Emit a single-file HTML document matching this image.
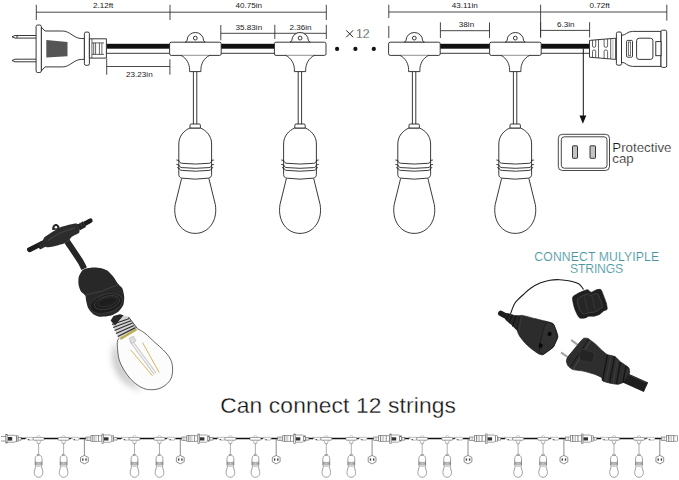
<!DOCTYPE html>
<html><head><meta charset="utf-8">
<style>
html,body{margin:0;padding:0;background:#fff;width:679px;height:480px;overflow:hidden}
svg{display:block}
text{font-family:"Liberation Sans",sans-serif}
</style></head>
<body>
<svg width="679" height="480" viewBox="0 0 679 480">
<defs>
 <!-- big fixture, drawn at fixture-1 position (center x=195.3) -->
 <g id="fx" fill="#fff" stroke="#222">
  <path d="M185,42.3 Q186.6,41.8 187.1,40.2 A8.2,7.7 0 0 1 203.5,40.2 Q204,41.8 205.6,42.3 Z"/>
  <circle cx="195.3" cy="38.1" r="1.9"/>
  <rect x="169.6" y="42.2" width="51.6" height="13.2" rx="1.6"/>
  <path d="M181,55.4 C186.5,58 189.6,64 189.6,69.6 L189.6,71.6 L200.9,71.6 L200.9,69.6 C200.9,64 204,58 209.6,55.4"/>
  <path d="M193.4,71.6 V124.4 M196.8,71.6 V124.4" fill="none"/>
  <path d="M181.6,178.5 L175.2,204.5 C172.5,221 182,233.4 195.2,233.4 C208.4,233.4 218,221 215.3,204.5 L208.9,178.5"/>
  <path d="M190,128 C184,130.5 178.8,136 178.8,144 V174.4 C178.8,176.4 179.8,177.6 181.5,178.1 Q195.2,180.2 208.9,178.1 C210.6,177.6 211.6,176.4 211.6,174.4 V144 C211.6,136 206.4,130.5 200.4,128 Z"/>
  <path d="M190,128 L190,125.2 Q190,124 191.2,124 L199.2,124 Q200.4,124 200.4,125.2 L200.4,128 Z"/>
  <path d="M176.4,160 L178.8,160.4 C179.5,162.6 180.5,163.2 182.2,163.3 Q195.2,164.8 208.9,163.3 C210.5,163.2 211.3,162.6 211.6,160.4 L213.9,160 M176.4,164.4 L178.8,164.9 C179.5,166.9 180.5,167.5 182.2,167.6 Q195.2,169 208.9,167.6 C210.5,167.5 211.3,166.9 211.6,164.9 L213.9,164.4 M177.2,167.6 L178.8,168 C179.5,169.8 180.5,170.3 182.2,170.4 Q195.2,172 208.9,170.4 C210.5,170.3 211.3,169.8 211.6,168 L213.2,167.6" fill="none"/>
 </g>
</defs>

<!-- ===== dimension lines ===== -->
<g stroke="#333" stroke-width="0.9" fill="none">
 <path d="M36.3,4.8 V20 M170,4.8 V20 M326.3,4.8 V20 M326.3,24.8 V39 M36.3,12.2 H326.3"/>
 <path d="M220.8,25 V40.3 M274.8,24.8 V39 M220.8,33.3 H326.3"/>
 <path d="M388.8,4.7 V18 M388.8,26 V38 M540.6,4.7 V37.5 M666.8,4.7 V20.6 M388.8,12 H666.8"/>
 <path d="M440.4,22.3 V38 M489.5,22.3 V38 M440.4,30.7 H489.5"/>
 <path d="M540.6,22.2 V37.5 M589.6,22.2 V37.5 M540.6,30.4 H589.6"/>
 <path d="M106.7,58.6 V74.7 M169.9,59.2 V74.7 M106.7,66.5 H169.9"/>
</g>
<g fill="#1a1a1a" font-size="8.1" text-anchor="middle">
 <text x="103.2" y="7.9">2.12ft</text>
 <text x="248.8" y="7.9">40.75in</text>
 <text x="464.8" y="7.9">43.11in</text>
 <text x="599.6" y="7.9">0.72ft</text>
 <text x="248.9" y="30.2">35.83in</text>
 <text x="300.5" y="30.2">2.36in</text>
 <text x="466.5" y="27.4">38in</text>
 <text x="565.7" y="27.4">6.3in</text>
 <text x="139.4" y="76.9">23.23in</text>
</g>

<!-- ===== main cable ===== -->
<g>
 <rect x="106.5" y="43.8" width="63.5" height="4.9" fill="#111"/>
 <rect x="221" y="43.8" width="54" height="4.9" fill="#111"/>
 <rect x="440" y="43.8" width="50" height="4.9" fill="#111"/>
 <rect x="541" y="43.8" width="49" height="4.9" fill="#111"/>
 <path d="M106.5,53.3 H170 M221,53.3 H275 M440,53.3 H490 M541,53.3 H590" stroke="#222" stroke-width="0.9"/>
 <path d="M106.5,48.7 V53.3 M589.6,48.7 V53.3" stroke="#222" stroke-width="0.6"/>
</g>

<!-- fixtures -->
<use href="#fx" stroke-width="0.9"/>
<use href="#fx" stroke-width="0.9" transform="translate(104.8,0)"/>
<use href="#fx" stroke-width="0.9" transform="translate(219,0)"/>
<use href="#fx" stroke-width="0.9" transform="translate(320,0)"/>

<!-- ×12 and dots -->
<path d="M346.2,30.3 L353.2,37.3 M353.2,30.3 L346.2,37.3" stroke="#222" stroke-width="1"/>
<text x="356" y="37.9" font-size="12.3" fill="#111" stroke="#fff" stroke-width="0.3">12</text>
<g fill="#111"><circle cx="337.1" cy="48.9" r="2.1"/><circle cx="355.4" cy="48.9" r="2.1"/><circle cx="373.8" cy="48.9" r="2.1"/></g>

<!-- ===== male plug (left) ===== -->
<g fill="#fff" stroke="#222" stroke-width="0.9">
 <path d="M36.3,35.5 H15 L12,36.8 L15,38.1 H36.3"/>
 <path d="M16.6,35.7 V37.9 M17.6,35.7 V37.9 M16.6,59.4 V61.6 M17.6,59.4 V61.6" stroke-width="0.5"/>
 <path d="M36.3,59.2 H15 L12,60.5 L15,61.8 H36.3"/>
 <path d="M41.2,27 L45,31 H62.5 C70,31 74,38.5 81.3,38.5 L84.4,38.5 L84.4,59.4 L81.3,59.4 C74,59.4 70,66.9 62.5,66.9 H45 L41.2,71 Z"/>
 <rect x="36.1" y="25" width="5.2" height="47.5" rx="1.5"/>
 <rect x="84.4" y="32.1" width="5" height="33.2" rx="1.5"/>
 <path d="M89.4,38.8 H106.4 V58.1 H89.4 Z"/>
 <path d="M91.9,38.8 V58.1 M93.7,42.9 V54.4 M95.6,42.9 V54.4 M99.4,42.9 V54.4 M101.9,42.9 V54.4 M92,42.9 H104 M92,54.4 H104" fill="none" stroke-width="0.7"/>
</g>
<path d="M46.3,40 L67.5,41.9 L67.5,56.3 L46.3,57.5 Z" fill="#555"/>

<!-- ===== female connector (right) ===== -->
<g fill="#fff" stroke="#222" stroke-width="0.9">
 <path d="M589.5,40.4 L615.7,38.2 L615.7,59.4 L589.5,57.2 Z"/>
 <path d="M592.5,40.1 V46 Q592.5,47.3 594.1,47.3 Q595.7,47.3 595.7,46 V39.8 M592.5,57.1 V51.3 Q592.5,50 594.1,50 Q595.7,50 595.7,51.3 V57.4 M604.1,39.3 V46 Q604.1,47.3 605.85,47.3 Q607.6,47.3 607.6,46 V39 M604.1,58.1 V51.3 Q604.1,50 605.85,50 Q607.6,50 607.6,51.3 V58.4 M598.5,39.6 V57.9 M610.7,38.8 V58.7" fill="none" stroke-width="0.7"/>
 <path d="M612.9,38.8 V58.8" stroke="#bbb" stroke-width="1" fill="none"/>
 <path d="M621.5,35.3 C626,35.3 627,31.4 632.5,31.4 H661 V66.4 H632.5 C627,66.4 626,62.3 621.5,62.3 Z"/>
 <rect x="616.4" y="32" width="5.1" height="33.2" rx="1.5"/>
 <rect x="661" y="30.2" width="5.7" height="37.2" rx="1.5"/>
 <rect x="626.6" y="40.4" width="5.9" height="16.8" rx="1"/>
 <rect x="628.4" y="42" width="2.3" height="13.6" fill="none" stroke-width="0.6"/>
 <rect x="636.6" y="38.2" width="16.3" height="21.2" rx="2.5"/>
 <rect x="655.8" y="41.6" width="5.2" height="14.1"/>
</g>

<!-- arrow to protective cap -->
<path d="M583.3,48.5 V116" stroke="#111" stroke-width="1"/>
<path d="M579.5,115.5 L586.3,115.5 L582.9,123.8 Z" fill="#111"/>

<!-- protective cap -->
<g fill="none" stroke="#333" stroke-width="0.9">
 <rect x="558.3" y="134.3" width="51.2" height="36.2" rx="4"/>
 <rect x="561.3" y="136.8" width="45.7" height="31.4" rx="3"/>
 <rect x="572.5" y="145.8" width="5" height="12.5" rx="0.6" fill="#c4c4c4" stroke="#222"/>
 <rect x="590" y="145.8" width="5.5" height="12.5" rx="0.6" fill="#c4c4c4" stroke="#222"/>
</g>
<g fill="#1a1a1a" font-size="13.3" stroke="#fff" stroke-width="0.2">
 <text x="612.3" y="151.8">Protective</text>
 <text x="612.3" y="162.5">cap</text>
</g>


<!-- ===== photo: black socket + T ===== -->
<g>
 <path d="M29.5,249.7 L44.5,242.3" stroke="#1c1c1c" stroke-width="4.9" stroke-linecap="round"/>
 <path d="M78,227.4 L90.3,220.7" stroke="#1c1c1c" stroke-width="4.7" stroke-linecap="round"/>
 <path d="M38.5,246.6 L45,243.4 M78.5,227.4 L84.5,224.2" stroke="#222" stroke-width="6.2" stroke-linecap="butt"/>
 <path d="M39.8,243.5 L41.9,248.3 M42.2,242.4 L44.3,247.1 M80.2,222.8 L82.4,227.4 M82.6,221.6 L84.8,226.2" stroke="#3f3f3f" stroke-width="0.9"/>
 <path d="M67.2,241.5 C71.5,248 77,256 80.5,261.5 C82,264 83,266.2 84.2,268.6" stroke="#262626" stroke-width="6.2" fill="none"/>
 <path d="M52.2,230 C51.9,226.2 53.7,224 55.9,224 C58.1,224 59.9,226.2 59.7,229.6 Z" fill="#262626"/>
 <circle cx="55.9" cy="227.3" r="1.3" fill="#fff"/>
 <path d="M43.2,241.8 C43,240.7 43.2,238.7 44.2,237.6 C45.2,236.5 50,233.4 51.8,232.2 C53.6,231 58.2,228.2 60,227.4 C61.8,226.6 65.3,225.6 67.1,225.2 C68.9,224.8 74.1,223.7 75.4,223.6 C76.7,223.5 77.4,223.9 77.9,224.2 C78.4,224.5 79.1,225.2 79.3,226.2 C79.5,227.2 79.8,231.4 79.3,232.4 C78.8,233.4 76.4,234.2 75.4,234.8 C74.4,235.4 71.7,236.7 71,237.4 C70.3,238.1 69.8,239.9 69,240.6 C68.2,241.3 65.7,242.8 64.5,243.3 C63.3,243.8 60.4,244.6 58.9,245 C57.4,245.4 53.3,246.6 51.8,246.8 C50.3,247 47,247.6 46,247 C45,246.4 43.4,242.9 43.2,241.8Z" fill="#2c2c2c"/>
 <path d="M48,240.5 C55,235 65,230.5 75,228" stroke="#444" stroke-width="1.2" fill="none"/>
 <path d="M85.5,268.6 C87,268.1 92.1,267.4 94,267.4 C95.9,267.4 99.9,267.8 101.5,268.2 C103.1,268.6 105.9,269.6 107.3,270.6 C108.7,271.6 112.2,275.4 113.5,277 C114.8,278.6 117.3,282.9 118.3,284.2 C119.3,285.5 121.6,286.8 122.3,288.3 C123,289.8 124.1,294.8 124.2,296.7 C124.3,298.6 124,303.2 123.3,305 C122.6,306.8 119.9,310.4 118.3,311.7 C116.7,313 112.1,315.2 110,315.8 C107.9,316.4 101.9,316.9 100,316.7 C98.1,316.5 94.7,315.2 93.3,314.2 C91.9,313.2 89.2,310 88.3,308.3 C87.4,306.6 86.3,301.5 86,300 C85.7,298.5 85.9,296.6 85.3,295.6 C84.7,294.6 81.8,292.7 81,291.5 C80.2,290.3 78.9,286.6 78.6,285 C78.3,283.4 78.3,279.1 78.6,277.5 C78.9,275.9 80.7,272.5 81.5,271.5 C82.3,270.5 84,269.1 85.5,268.6Z" fill="#282828"/>
 <path d="M85,295.2 Q101.7,292.5 118.6,284.4" stroke="#404040" stroke-width="1" fill="none"/>
 <ellipse cx="106.2" cy="303.6" rx="16.6" ry="9.3" transform="rotate(-16 106.2 303.6)" fill="#1d1d1d" stroke="#383838" stroke-width="1"/>
 <ellipse cx="107" cy="302.6" rx="13" ry="6.4" transform="rotate(-16 107 302.6)" fill="none" stroke="#3a3a3a" stroke-width="0.9"/>
 <ellipse cx="107.6" cy="301.8" rx="10" ry="4.3" transform="rotate(-16 107.6 301.8)" fill="none" stroke="#363636" stroke-width="0.8"/>
</g>
<!-- ===== photo: LED bulb ===== -->
<g>
 <defs><filter id="blr" x="-50%" y="-50%" width="200%" height="200%"><feGaussianBlur stdDeviation="3"/></filter></defs>
 <path d="M116,342 C110,352 111,368 122,380 C128,386 136,390 142,390 L135,383 C127,375 120,362 118.5,350 Z" fill="#c8c8c8" filter="url(#blr)"/>
 <path d="M120,336.7 C119.6,337.4 117.9,339.1 117.5,341 C117.1,342.9 117.2,345.1 117.5,348.3 C117.8,351.5 118,356.1 119.2,360 C120.5,363.9 122.7,368.1 125,371.7 C127.3,375.3 130.2,378.9 133.3,381.7 C136.4,384.5 140.2,387 143.3,388.3 C146.4,389.6 148.9,389.7 151.7,389.7 C154.5,389.7 157.4,389.4 160,388.3 C162.6,387.2 165.6,385.2 167.5,383.3 C169.4,381.4 170.9,379.5 171.7,376.7 C172.5,373.9 172.8,369.8 172.5,366.7 C172.2,363.6 171.5,361.1 170,358.3 C168.5,355.5 165.8,352.6 163.3,350 C160.8,347.4 158.1,345.3 155,342.5 C151.9,339.7 148.1,335.7 145,333.3 C141.9,330.9 138.1,329.1 136.7,328.3" fill="#fcfcfc" stroke="#555" stroke-width="0.9"/>
 <path d="M110.7,320.5 L113.5,316 L120,314.2 L128.4,316.8 L137,328 L120,338.8 L117.5,336.5 Z" fill="#d4d4d4"/>
 <path d="M110.7,320.5 L113.5,316 L120,314.2 L123.5,315.2 L115,325.5 Z" fill="#262626"/>
 <path d="M112,324.5 L129.5,318.5 M113.2,327.5 L131,320.8 M114.5,330.5 L132.5,323 M116,333.5 L134,325.5 M117.8,336.5 L135.5,327.6" stroke="#2e2e2e" stroke-width="1.2"/>
 <path d="M128.4,316.8 L137,328" stroke="#333" stroke-width="0.9"/>
 <path d="M120.3,339 L136.5,329.3" stroke="#bcab50" stroke-width="2.3"/>
 <path d="M131,341 L155,373.5" stroke="#c4c4c4" stroke-width="3.4"/>
 <path d="M131,341 L155,373.5" stroke="#f2f2f2" stroke-width="1.6"/>
 <path d="M129,338.5 L133.5,336 L136,341 L131.5,343.5 Z" fill="#ddd" stroke="#aaa" stroke-width="0.5"/>
 <path d="M130.8,350 L152.5,375.8 M142.5,342.5 L159.2,372.5" stroke="#d7b65a" stroke-width="1"/>
</g>
<!-- ===== photo: plugs ===== -->
<g>
 <path d="M510.5,314 C511.2,312.2 512.9,306.2 515,303 C517.1,299.8 520.7,297 523.4,294.5 C526.1,292 528.2,289.9 531,288 C533.8,286.1 536.8,284.3 540,283 C543.2,281.7 546.7,280.8 550,280.2 C553.3,279.6 556.3,279.6 559.6,279.7 C562.9,279.8 566.8,280.3 570,281 C573.2,281.7 576.8,282.6 579,284 C581.2,285.4 582.8,288.6 583.5,289.5" stroke="#1a1a1a" stroke-width="1.1" fill="none"/>
 <path d="M500.8,313.4 L511,319" stroke="#1e1e1e" stroke-width="5.4" stroke-linecap="round"/>
 <path d="M506.5,313 C507.1,312.7 514,315 515,315.2 C516,315.4 521.8,314.7 522,315.8 C522.2,316.9 519.2,330.9 518.5,331.5 C517.8,332.1 511.9,325.3 511,324.5 C510.1,323.7 505.8,320.6 505.5,319.8 C505.2,319 505.9,313.3 506.5,313Z" fill="#262626"/>
 <path d="M509,313.8 L506,320 M512.5,314.8 L509,322.5 M516,315.5 L512.5,326.5" stroke="#111" stroke-width="1"/>
 <path d="M521.5,315.4 C523.1,315.1 532.4,318 535,318.6 C537.6,319.2 546.2,321.3 548,321.8 C549.8,322.3 552.5,323 553.3,323.8 C554.1,324.6 555.5,328.7 556,330 C556.5,331.3 557.9,335.4 557.9,336.6 C557.9,337.8 556.3,340.9 555.8,342 C555.3,343.1 554.1,346.3 553.3,347.2 C552.5,348.1 549.1,350.4 548,351.2 C546.9,352 543.7,354.5 542.7,354.8 C541.8,355.1 539.7,354.4 538.5,353.8 C537.3,353.2 532.4,349.6 531,348.5 C529.6,347.4 525.6,343.8 524.5,342.5 C523.4,341.2 520.2,337.1 519.5,336 C518.8,334.9 517.6,332.4 517.5,331 C517.4,329.6 518.1,323.6 518.5,322 C518.9,320.4 519.9,315.7 521.5,315.4Z" fill="#2c2c2c" stroke="#1a1a1a" stroke-width="0.6"/>
 <path d="M547,322.2 C547.9,322 552.2,323.3 553.1,324.1 C554,324.9 555.3,328.8 555.8,330 C556.2,331.2 557.6,335.4 557.6,336.6 C557.6,337.8 556.1,341 555.6,342 C555.1,343 553.9,346.1 553.1,347 C552.3,347.9 549,350.3 548,351 C547,351.7 543.6,354.4 542.8,354.4 C541.9,354.4 539.7,352.2 539.5,351 C539.3,349.8 540.2,343.8 540.5,342 C540.8,340.2 542.1,334.6 542.5,333 C542.9,331.4 544,327.1 544.5,326 C545,324.9 546.1,322.4 547,322.2Z" fill="#313131" stroke="#1c1c1c" stroke-width="0.9"/>
 <path d="M521.5,316 L519,331" stroke="#3d3d3d" stroke-width="0.8"/>
 <path d="M548.4,331.4 L551.8,332.8 L550.8,336.6 L547.4,335.2 Z M539.4,343 L542.8,344.4 L541.8,348.2 L538.4,346.8 Z" fill="#080808"/>
 <path d="M572.8,296.8 C573.3,296 577,293.9 578.1,293.3 C579.2,292.7 583.3,291 584.3,290.6 C585.3,290.2 587.1,289.5 587.8,289.7 C588.5,289.9 590.4,292.2 591.3,292.2 C592.2,292.2 595.6,289.9 596.6,289.7 C597.6,289.4 600.3,289.1 601,289.7 C601.7,290.3 603.2,294.6 603.7,295.9 C604.2,297.2 605.9,301.7 606.3,303 C606.6,304.3 607.5,308.4 607.2,309.2 C606.9,310 604.5,310.4 603.7,310.9 C602.9,311.4 600.3,314 599.3,314.5 C598.3,315 595.1,316 594,316.2 C592.9,316.4 589.6,316 588.7,316.2 C587.8,316.4 586,317.8 585.1,318 C584.2,318.2 580.6,318.4 579.8,318 C579,317.6 577.7,315.5 577.2,314.5 C576.7,313.5 574.9,309.6 574.5,308.3 C574.1,307 573,302.3 572.8,301.2 C572.6,300.1 572.3,297.6 572.8,296.8Z" fill="#1f1f1f" stroke="#141414" stroke-width="0.6"/>
 <path d="M577.5,298.8 C577.9,298.3 580.5,296.8 581.3,296.4 C582.2,295.9 585.1,294.7 585.8,294.5 C586.5,294.2 587.8,293.8 588.3,293.9 C588.8,294 590.2,295.6 590.9,295.6 C591.5,295.6 594,294 594.7,293.9 C595.4,293.7 597.3,293.4 597.8,293.9 C598.3,294.3 599.4,297.3 599.8,298.2 C600.2,299.1 601.4,302.2 601.7,303.2 C601.9,304.1 602.5,307 602.3,307.5 C602.1,308.1 600.3,308.3 599.8,308.7 C599.2,309.1 597.3,310.9 596.6,311.2 C595.9,311.6 593.6,312.3 592.8,312.4 C592,312.5 589.6,312.3 589,312.4 C588.3,312.5 587,313.5 586.4,313.7 C585.7,313.8 583.1,313.9 582.6,313.7 C582,313.4 581.1,311.9 580.7,311.2 C580.3,310.5 579.1,307.8 578.8,306.9 C578.4,306 577.7,302.7 577.5,301.9 C577.4,301.1 577.1,299.4 577.5,298.8Z" fill="#262626" stroke="#4a4a4a" stroke-width="0.8"/>
 <path d="M584.5,297 L587.5,310.5 M592,296.5 L595,309.5" stroke="#3a3a3a" stroke-width="0.8"/>
 <path d="M571.2,340 L577.7,344.9 M561,352.5 L567.5,356.8" stroke="#b8b8b8" stroke-width="2.2"/>
 <path d="M571.2,340 L577.7,344.9 M561,352.5 L567.5,356.8" stroke="#7a7a7a" stroke-width="0.6"/>
 <path d="M622,376.5 L646,387.3" stroke="#1e1e1e" stroke-width="10.5" stroke-linecap="butt"/>
 <path d="M626,373.5 L646,382.5" stroke="#3a3a3a" stroke-width="1"/>
 <path d="M566.4,361.2 C566.4,360.5 566.5,358.8 567.8,357 C569.1,355.2 580.6,341.4 582,339.8 C583.4,338.2 583.7,338.3 584.2,338.2 C584.7,338.1 587.5,338.2 588,338.4 C588.5,338.6 590,339.9 590.7,340.4 C591.4,340.9 595.3,343.9 596.2,344.7 C597.1,345.5 600.7,349.3 601.6,350.1 C602.5,350.9 605.9,354 607,354.5 C608.1,355 613.9,356 615,356.6 C616.1,357.2 618.9,360.6 620,361.5 C621.1,362.4 627.8,366.6 628.6,367.6 C629.4,368.6 629.9,371.8 629.5,373 C629.1,374.2 625.2,380.9 624.2,381.8 C623.2,382.7 619.2,384.2 618,384.3 C616.8,384.4 611.5,383.5 610.2,383.2 C608.9,382.9 603.4,381.5 602.7,381 C602,380.5 602.2,378.2 601.6,377.6 C601,377.1 596.6,374.9 595.1,374.4 C593.6,373.9 585.1,371.5 583.2,371.1 C581.4,370.7 574.2,370 572.9,369.6 C571.6,369.2 568.5,366.5 568,365.8 C567.5,365.1 566.4,361.9 566.4,361.2Z" fill="#2e2e2e" stroke="#1a1a1a" stroke-width="0.7"/>
 <path d="M590.7,340.8 L573.2,369" stroke="#474747" stroke-width="1"/>
 <path d="M588.5,339 L571,366.5" stroke="#151515" stroke-width="1"/>
 <path d="M581,349.2 C582.4,348.5 592.9,352.1 594,353.4 C595.1,354.7 593.4,361.5 592,362.2 C590.6,362.9 581,361.3 579.9,360 C578.8,358.7 579.6,349.9 581,349.2Z" fill="#242424" stroke="#3e3e3e" stroke-width="0.7"/>
 <path d="M607.5,355 L602.5,380.5 M614.5,357 L609.5,383 M620.5,362 L616.5,384 M626,366 L623,382" stroke="#141414" stroke-width="1.3"/>
 <path d="M611,356 L606,381.5 M617.5,359.5 L613,383.5" stroke="#444" stroke-width="0.7"/>
</g>
<!-- CONNECT MULTIPLE -->
<g fill="#46959f" font-size="12.2" text-anchor="middle" stroke="#fff" stroke-width="0.15">
 <text x="596.8" y="261" letter-spacing="0.13">CONNECT MULYIPLE</text>
 <text x="596.5" y="273.4" letter-spacing="-0.2">STRINGS</text>
</g>

<!-- ===== bottom row ===== -->
<defs>
 <g id="sf">
  <path d="M-1.9,437.6 Q-1.7,435.4 0,435.4 Q1.7,435.4 1.9,437.6" fill="#fff" stroke="#999" stroke-width="0.45"/>
  <path d="M-3,440.2 Q-1.2,441.5 -1.2,443.6 H1.2 Q1.2,441.5 3,440.2" fill="#fff" stroke="#666" stroke-width="0.5"/>
  <rect x="-5.35" y="437.45" width="10.7" height="2.75" rx="0.5" fill="#fff" stroke="#555" stroke-width="0.55"/>
  <path d="M0,443.6 V454.8" stroke="#777" stroke-width="0.6"/>
  <path d="M-1.1,455.2 C-2.5,455.8 -3.4,457 -3.4,458.5 V465.2 Q-3.4,466.2 -2.8,466.3 Q0,466.9 2.8,466.3 Q3.4,466.2 3.4,465.2 V458.5 C3.4,457 2.5,455.8 1.1,455.2 Z" fill="#fff" stroke="#555" stroke-width="0.55"/>
  <rect x="-1.1" y="454.5" width="2.2" height="0.9" fill="#fff" stroke="#666" stroke-width="0.4"/>
  <path d="M-3.8,462 Q0,463.3 3.8,462 M-3.7,463.3 Q0,464.6 3.7,463.3 M-3.5,464.5 Q0,465.7 3.5,464.5" fill="none" stroke="#555" stroke-width="0.55"/>
  <path d="M-2.9,466.4 L-4.2,471.3 C-4.8,474.8 -2.8,477.3 0,477.3 C2.8,477.3 4.8,474.8 4.2,471.3 L2.9,466.4" fill="#fff" stroke="#555" stroke-width="0.55"/>
 </g>
 <g id="tw">
  <path d="M0.4,437.3 H8.1 L8.7,438.7 L8.1,440.1 H3.6 Z" fill="#fff" stroke="#888" stroke-width="0.55" stroke-linejoin="round"/>
  <circle cx="0.3" cy="438.5" r="0.7" fill="#222"/>
  <circle cx="3.9" cy="439.6" r="0.65" fill="#333"/>
 </g>
 <g id="cap">
  <path d="M0,455.4 L3.9,457.4 V461.8 L0,463.9 L-3.9,461.8 V457.4 Z" fill="#fff" stroke="#555" stroke-width="0.65" stroke-linejoin="round"/>
  <rect x="-2.3" y="458.4" width="1.4" height="2.3" fill="#444"/><rect x="0.9" y="458.4" width="1.4" height="2.3" fill="#444"/>
 </g>
 <g id="fem">
  <g fill="#fff" stroke="#666" stroke-width="0.6">
   <rect x="0" y="437" width="5" height="3.5"/>
   <rect x="5" y="435.3" width="2" height="6.4"/>
   <rect x="7" y="435.3" width="5.5" height="6.4"/>
   <rect x="12.5" y="435.8" width="3.5" height="5.4"/>
  </g>
  <path d="M1.5,437 V440.5 M3,437 V440.5 M8.5,435.3 V441.7 M10,435.3 V441.7" stroke="#888" stroke-width="0.5"/>
 </g>
 <g id="male">
  <g fill="#fff" stroke="#666" stroke-width="0.6">
   <rect x="0" y="434" width="1.5" height="9.5"/>
   <path d="M1.5,435 H8.5 L10,436 V441 L8.5,442.2 H1.5 Z"/>
   <rect x="10" y="435.8" width="1.7" height="5.4"/>
   <rect x="11.7" y="437.4" width="3.3" height="2.7"/>
  </g>
  <path d="M13,437.4 V440.1" stroke="#888" stroke-width="0.5"/>
  <rect x="2" y="437.3" width="4.5" height="3.2" fill="#333"/>
 </g>
</defs>
<g>
 <!-- left plug (bottom row) -->
 <g fill="#fff" stroke="#555" stroke-width="0.6">
  <path d="M1,436.5 H5.8 M1,441 H5.8" fill="none"/>
  <rect x="5.8" y="434.5" width="1.4" height="8.5"/>
  <path d="M7.2,435.3 H14.8 L16.6,436.5 V440.8 L14.8,442.2 H7.2 Z"/>
  <rect x="16.6" y="435.8" width="1.5" height="5.6"/>
  <rect x="18.1" y="437.3" width="3" height="2.8"/>
 </g>
 <rect x="8" y="437" width="4.2" height="3.6" fill="#333"/>

 <path d="M21.1,438.5 H25 M32,438.5 H33.25 M43.95,438.5 H58.25 M68.95,438.5 H70.2 M79.4,438.5 H86.2 M117,438.5 H121.1 M117,438.5 H120.9 M127.9,438.5 H129.15 M139.85,438.5 H154.15 M164.85,438.5 H166.1 M175.3,438.5 H182.1 M212.9,438.5 H217 M212.9,438.5 H216.8 M223.8,438.5 H225.05 M235.75,438.5 H250.05 M260.75,438.5 H262 M271.2,438.5 H278 M308.8,438.5 H312.9 M308.8,438.5 H312.7 M319.7,438.5 H320.95 M331.65,438.5 H345.95 M356.65,438.5 H357.9 M367.1,438.5 H373.9 M404.7,438.5 H408.8 M404.7,438.5 H408.6 M415.6,438.5 H416.85 M427.55,438.5 H441.85 M452.55,438.5 H453.8 M463,438.5 H469.8 M500.6,438.5 H504.7 M500.6,438.5 H504.5 M511.5,438.5 H512.75 M523.45,438.5 H537.75 M548.45,438.5 H549.7 M558.9,438.5 H565.7 M596.5,438.5 H600.6 M596.5,438.5 H600.4 M607.4,438.5 H608.65 M619.35,438.5 H633.65 M644.35,438.5 H645.6 M654.8,438.5 H661.6" stroke="#111" stroke-width="1.3"/>
 <use href="#tw" transform="translate(24.8,0)"/>
 <use href="#tw" transform="translate(70.4,0)"/>
 <path d="M84.4,438.5 V455.4" stroke="#666" stroke-width="0.75"/>
 <use href="#cap" transform="translate(84.4,0)"/>
 <use href="#fem" transform="translate(86,0)"/>
 <use href="#male" transform="translate(102,0)"/>
 <use href="#sf" transform="translate(38.6,0)"/>
 <use href="#sf" transform="translate(63.6,0)"/>
 <use href="#tw" transform="translate(120.7,0)"/>
 <use href="#tw" transform="translate(166.3,0)"/>
 <path d="M180.3,438.5 V455.4" stroke="#666" stroke-width="0.75"/>
 <use href="#cap" transform="translate(180.3,0)"/>
 <use href="#fem" transform="translate(181.9,0)"/>
 <use href="#male" transform="translate(197.9,0)"/>
 <use href="#sf" transform="translate(134.5,0)"/>
 <use href="#sf" transform="translate(159.5,0)"/>
 <use href="#tw" transform="translate(216.6,0)"/>
 <use href="#tw" transform="translate(262.2,0)"/>
 <path d="M276.2,438.5 V455.4" stroke="#666" stroke-width="0.75"/>
 <use href="#cap" transform="translate(276.2,0)"/>
 <use href="#fem" transform="translate(277.8,0)"/>
 <use href="#male" transform="translate(293.8,0)"/>
 <use href="#sf" transform="translate(230.4,0)"/>
 <use href="#sf" transform="translate(255.4,0)"/>
 <use href="#tw" transform="translate(312.5,0)"/>
 <use href="#tw" transform="translate(358.1,0)"/>
 <path d="M372.1,438.5 V455.4" stroke="#666" stroke-width="0.75"/>
 <use href="#cap" transform="translate(372.1,0)"/>
 <use href="#fem" transform="translate(373.7,0)"/>
 <use href="#male" transform="translate(389.7,0)"/>
 <use href="#sf" transform="translate(326.3,0)"/>
 <use href="#sf" transform="translate(351.3,0)"/>
 <use href="#tw" transform="translate(408.4,0)"/>
 <use href="#tw" transform="translate(454,0)"/>
 <path d="M468,438.5 V455.4" stroke="#666" stroke-width="0.75"/>
 <use href="#cap" transform="translate(468,0)"/>
 <use href="#fem" transform="translate(469.6,0)"/>
 <use href="#male" transform="translate(485.6,0)"/>
 <use href="#sf" transform="translate(422.2,0)"/>
 <use href="#sf" transform="translate(447.2,0)"/>
 <use href="#tw" transform="translate(504.3,0)"/>
 <use href="#tw" transform="translate(549.9,0)"/>
 <path d="M563.9,438.5 V455.4" stroke="#666" stroke-width="0.75"/>
 <use href="#cap" transform="translate(563.9,0)"/>
 <use href="#fem" transform="translate(565.5,0)"/>
 <use href="#male" transform="translate(581.5,0)"/>
 <use href="#sf" transform="translate(518.1,0)"/>
 <use href="#sf" transform="translate(543.1,0)"/>
 <use href="#tw" transform="translate(600.2,0)"/>
 <use href="#tw" transform="translate(645.8,0)"/>
 <path d="M659.8,438.5 V455.4" stroke="#666" stroke-width="0.75"/>
 <use href="#cap" transform="translate(659.8,0)"/>
 <use href="#fem" transform="translate(661.4,0)"/>
 <use href="#sf" transform="translate(614,0)"/>
 <use href="#sf" transform="translate(639,0)"/>
</g>

<!-- Can connect 12 strings -->
<text x="220.2" y="412.6" font-size="22.8" fill="#111" stroke="#fff" stroke-width="0.3" letter-spacing="0.12">Can connect 12 strings</text>

</svg>
</body></html>
